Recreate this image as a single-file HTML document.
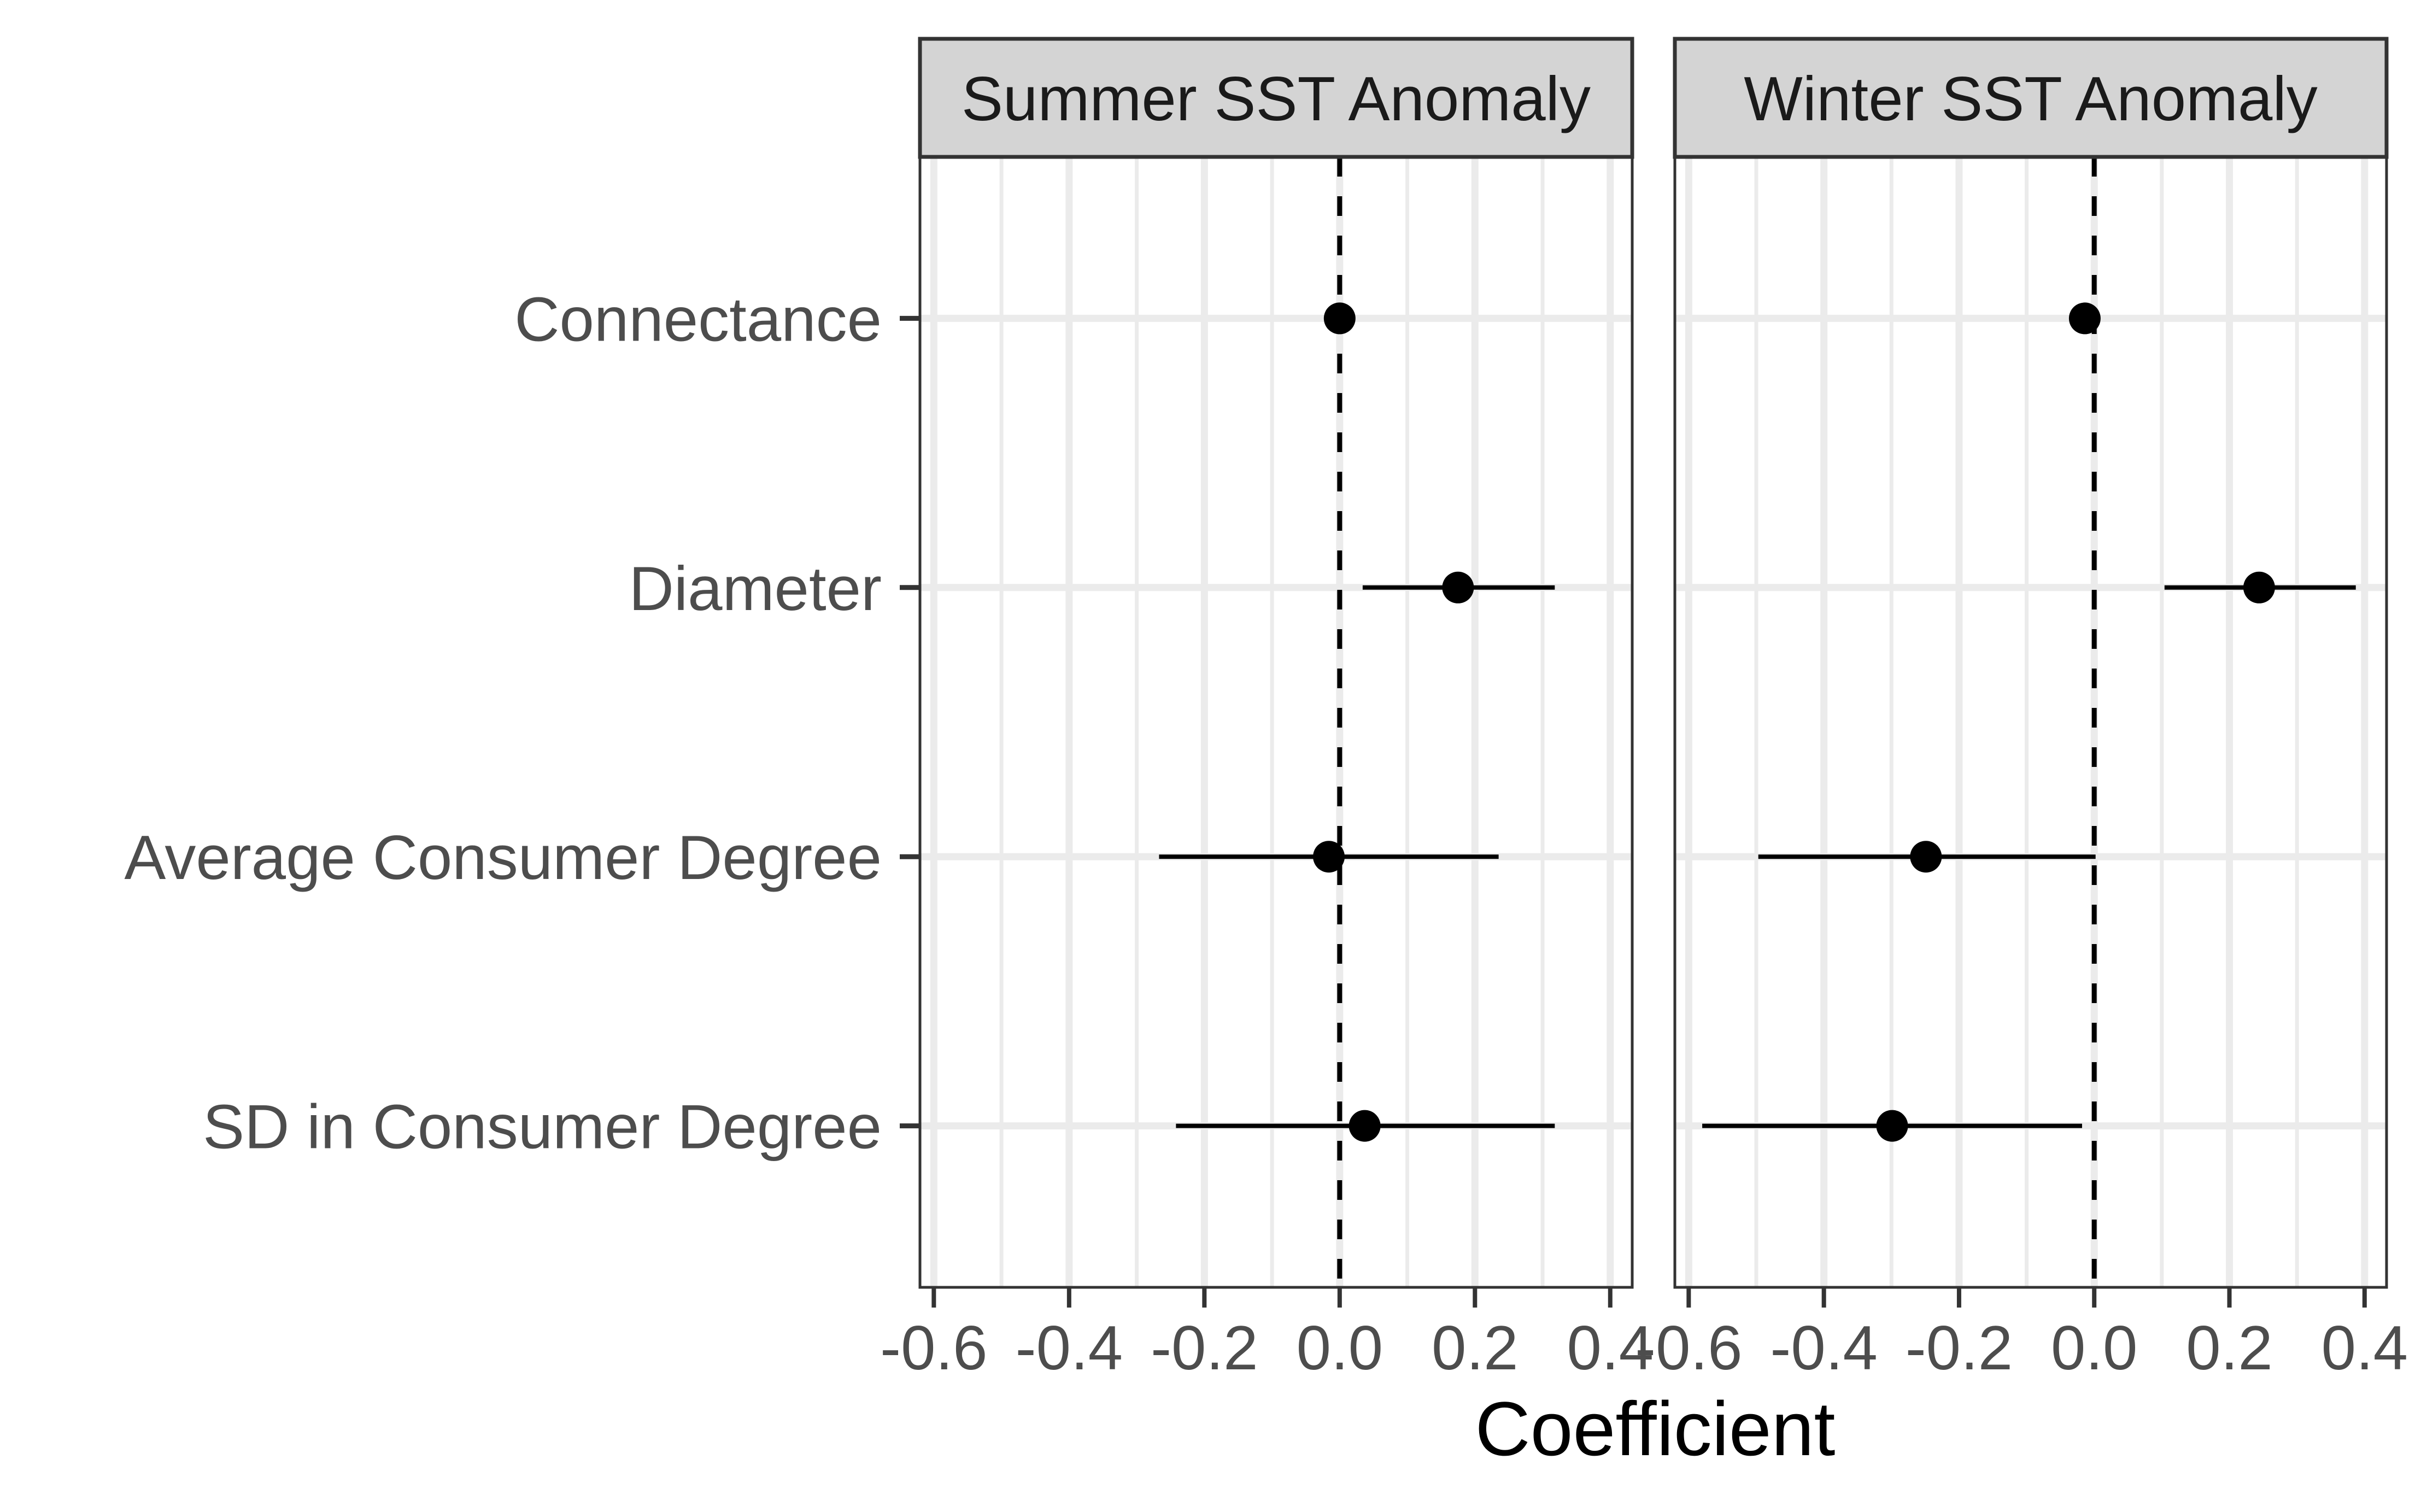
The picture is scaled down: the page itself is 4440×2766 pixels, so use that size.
<!DOCTYPE html>
<html><head><meta charset="utf-8"><style>
html,body{margin:0;padding:0;background:#fff;}
svg{display:block;font-family:"Liberation Sans",sans-serif;}
</style></head><body>
<svg id="chart" width="4440" height="2766" viewBox="0 0 4440 2766" xmlns="http://www.w3.org/2000/svg"></svg>
<script>
const categories = ["Connectance","Diameter","Average Consumer Degree","SD in Consumer Degree"];
const panelTitles = ["Summer SST Anomaly","Winter SST Anomaly"];
const summerEst = [0.0, 0.175, -0.016, 0.037];
const summerLo  = [-0.004, 0.034, -0.267, -0.242];
const summerHi  = [0.004, 0.318, 0.235, 0.318];
const winterEst = [-0.014, 0.244, -0.249, -0.299];
const winterLo  = [-0.018, 0.104, -0.497, -0.580];
const winterHi  = [-0.010, 0.387, 0.002, -0.018];
const xTicks = [-0.6,-0.4,-0.2,0.0,0.2,0.4];
const xTickLabels = ["-0.6","-0.4","-0.2","0.0","0.2","0.4"];
const xMinor = [-0.5,-0.3,-0.1,0.1,0.3];

const NS="http://www.w3.org/2000/svg";
const svg=document.getElementById('chart');
function mk(tag,attrs,parent){const e=document.createElementNS(NS,tag);for(const k in attrs)e.setAttribute(k,attrs[k]);(parent||svg).appendChild(e);return e;}

const panelTop=287, panelBot=2355;
const domain=[-0.6205,0.4325];
const panels=[{x0:1683,x1:2986},{x0:3064,x1:4366}];
const series=[[summerEst,summerLo,summerHi],[winterEst,winterLo,winterHi]];
const nCat=categories.length;
function yScale(i){const unit=(panelBot-panelTop)/(nCat-1+1.2);return panelTop+0.6*unit+i*unit;}

panels.forEach((p,pi)=>{
  const xs=v=>p.x0+(v-domain[0])/(domain[1]-domain[0])*(p.x1-p.x0);
  const g=mk('g',{});
  
  
  mk('rect',{x:p.x0,y:panelTop,width:p.x1-p.x0,height:panelBot-panelTop,fill:'#fff'},g);
  xMinor.forEach(v=>{const l=mk('line',{x1:xs(v),x2:xs(v),y1:panelTop,y2:panelBot,stroke:'#ebebeb','stroke-width':7},g);
    });
  xTicks.forEach(v=>{const l=mk('line',{x1:xs(v),x2:xs(v),y1:panelTop,y2:panelBot,stroke:'#ebebeb','stroke-width':13},g);
    });
  categories.forEach((c,i)=>{const l=mk('line',{x1:p.x0,x2:p.x1,y1:yScale(i),y2:yScale(i),stroke:'#ebebeb','stroke-width':13},g);
    });
  const z=mk('line',{x1:xs(0),x2:xs(0),y1:panelTop,y2:panelBot,stroke:'#000','stroke-width':9,'stroke-dasharray':'36 36'},g);
  
  const [est,lo,hi]=series[pi];
  categories.forEach((c,i)=>{
    const el=mk('line',{x1:xs(lo[i]),x2:xs(hi[i]),y1:yScale(i),y2:yScale(i),stroke:'#000','stroke-width':8},g);
    
    const pt=mk('circle',{cx:xs(est[i]),cy:yScale(i),r:29,fill:'#000'},g);
    
  });
  const b=mk('rect',{x:p.x0,y:panelTop,width:p.x1-p.x0,height:panelBot-panelTop,fill:'none',stroke:'#333','stroke-width':5},g);
  
  const s=mk('rect',{x:p.x0,y:71,width:p.x1-p.x0,height:216,fill:'#d4d4d4',stroke:'#333','stroke-width':7},g);
  
  const st=mk('text',{x:(p.x0+p.x1)/2,y:220,'text-anchor':'middle','font-size':114,fill:'#1a1a1a'},g);
  st.textContent=panelTitles[pi];
  
  xTicks.forEach((v,k)=>{
    const t=mk('line',{x1:xs(v),x2:xs(v),y1:panelBot,y2:panelBot+37,stroke:'#333','stroke-width':8},g);
    
    const tl=mk('text',{x:xs(v),y:2505,'text-anchor':'middle','font-size':114,fill:'#4d4d4d'},g);
    tl.textContent=xTickLabels[k];
    
  });
});
categories.forEach((c,i)=>{
  const t=mk('line',{x1:1646,x2:1683,y1:yScale(i),y2:yScale(i),stroke:'#333','stroke-width':9});
  
  const l=mk('text',{x:1613,y:yScale(i)+41,'text-anchor':'end','font-size':114,fill:'#4d4d4d'});
  l.textContent=c;
  
});
const xt=mk('text',{x:3028,y:2662,'text-anchor':'middle','font-size':140,fill:'#000'});
xt.textContent='Coefficient';

</script>
</body></html>
